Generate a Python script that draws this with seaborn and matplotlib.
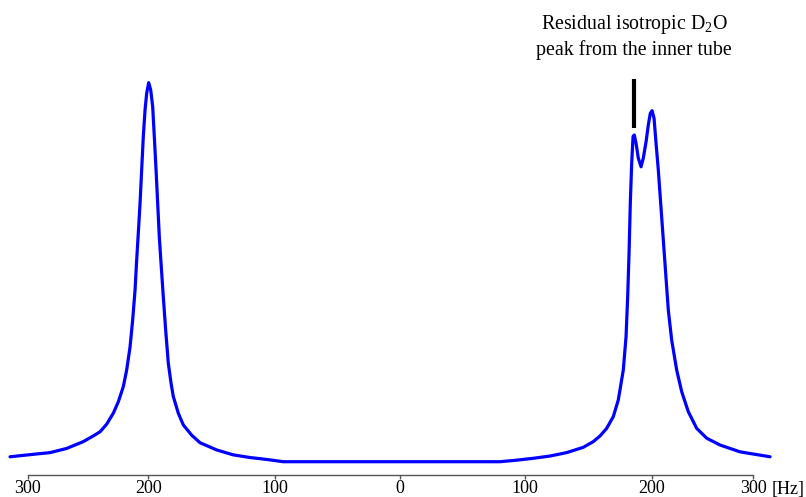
import matplotlib
matplotlib.use("Agg")
import matplotlib.pyplot as plt
import seaborn as sns
import pandas as pd

# ---- data (frequency in Hz, intensity in % of highest peak) ----
freq_hz = [-312.2, -293.6, -280.2, -266.9, -253.6, -245.6, -240.2, -234.9, -229.6,
           -225.6, -221.6, -218.9, -216.2, -214.1, -212.2, -210.9, -209.6, -208.2,
           -206.9, -205.6, -204.2, -202.9, -201.3, -199.7, -198.1, -196.8, -195.4,
           -194.1, -192.8, -191.4, -189.6, -187.7, -185.6, -183.4, -181.6, -177.6,
           -173.6, -166.9, -160.2, -146.9, -133.6, -120.2, -106.9, -93.8,
           0.0, 79.8,
           93.0, 106.4, 119.8, 133.1, 146.4, 154.4, 159.8, 165.1, 170.4, 174.4,
           178.4, 180.6, 181.9, 183.0, 184.0, 185.1, 186.2, 187.2, 188.6, 190.4,
           192.6, 194.4, 196.6, 198.4, 200.0, 201.4, 203.0, 204.6, 206.4, 208.3,
           210.4, 212.3, 214.4, 217.1, 221.1, 225.1, 230.4, 237.1, 245.1, 255.8,
           271.8, 295.8]
intensity = [1.3, 1.95, 2.4, 3.5, 5.3, 6.8, 7.9, 9.9, 12.8,
             15.8, 19.8, 24.2, 30.3, 37.4, 45.3, 53.2, 60.3, 68.2,
             77.0, 85.8, 92.8, 97.2, 100.0, 98.1, 93.7, 85.8, 77.0,
             68.2, 59.4, 52.3, 43.5, 34.7, 26.0, 20.7, 17.2, 12.8,
             9.7, 7.0, 5.0, 3.1, 1.8, 1.1, 0.6, 0.0,
             0.0, 0.0,
             0.4, 0.9, 1.5, 2.4, 3.8, 5.3, 6.8, 8.8, 11.9, 16.3,
             24.2, 33.0, 43.5, 55.0, 68.2, 78.7, 85.8, 86.2, 84.0, 80.1,
             77.8, 80.1, 84.4, 88.8, 91.9, 92.6, 90.6, 84.0, 77.0, 68.2,
             58.5, 49.7, 40.0, 32.1, 24.2, 18.5, 13.2, 8.8, 6.2, 4.4,
             2.6, 1.3]

tick_pos = [-298.2, -201.6, -100.2, 0.0, 100.0, 201.0, 282.4]
tick_labels = ["300", "200", "100", "0", "100", "200", "300"]
unit_label = "[Hz]"

annot_text = "Residual isotropic D$_\\mathrm{2}$O\npeak from the inner tube"
marker_x = 186.9
marker_y = [88.0, 101.0]

df = pd.DataFrame({"freq": freq_hz, "intensity": intensity})

sns.set_style("white")
plt.rcParams["font.family"] = ["Liberation Serif", "DejaVu Serif"]
plt.rcParams["mathtext.fontset"] = "custom"
plt.rcParams["mathtext.rm"] = "Liberation Serif"
plt.rcParams["mathtext.it"] = "Liberation Serif:italic"

fig = plt.figure(figsize=(8.06, 4.97), dpi=100)
ax = fig.add_axes([0, 0, 1, 1])

sns.lineplot(data=df, x="freq", y="intensity", color="#0000ff", linewidth=2.3,
             sort=False, ax=ax, solid_joinstyle="round", solid_capstyle="round")

ax.plot([marker_x, marker_x], marker_y, color="black", linewidth=3.0,
        solid_capstyle="butt")

ax.set_xlim(-320.24, 324.56)
ax.set_ylim(-9.31, 121.8)

for s in ["left", "right", "top"]:
    ax.spines[s].set_visible(False)
ax.spines["bottom"].set_position(("data", -3.5))
ax.spines["bottom"].set_bounds(tick_pos[0], tick_pos[-1])
ax.spines["bottom"].set_color("#555555")
ax.spines["bottom"].set_linewidth(1.0)

ax.set_xticks(tick_pos)
ax.set_xticklabels(tick_labels)
ax.tick_params(axis="x", direction="out", length=3.0, width=1.0, color="#555555",
               labelsize=13, pad=0.8, bottom=True, labelcolor="black")
ax.set_yticks([])
ax.set_xlabel("")
ax.set_ylabel("")

fig.text(772 / 806, 1 - 494 / 497, unit_label, fontsize=13, ha="left",
         va="baseline", color="black")

ax.text(marker_x, 112.2, annot_text, ha="center", va="center", fontsize=14.3,
        linespacing=1.3, color="black")

fig.savefig("out.png", dpi=100)
